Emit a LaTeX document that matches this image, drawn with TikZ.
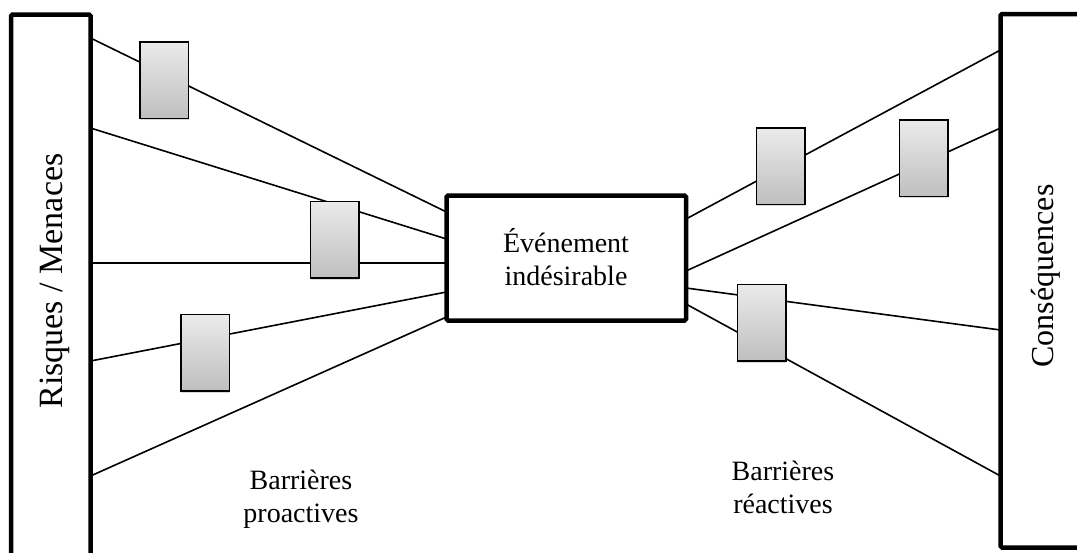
\documentclass[tikz,border=0pt]{standalone}
\usepackage{fontspec}
\setmainfont{Liberation Serif}
\usetikzlibrary{shadows}
\begin{document}
\begin{tikzpicture}[x=1pt,y=-1pt,
  heavy/.style={draw, line width=4.5pt, rounded corners=1.5pt, inner sep=0pt, fill=white},
  link/.style={line width=1.6pt},
  barrier/.style={draw, line width=1.5pt, minimum width=48.5pt, minimum height=76.5pt,
    inner sep=0pt, top color=black!8, bottom color=black!25,
    drop shadow={shadow xshift=0.6pt, shadow yshift=-2.2pt, opacity=0.3}},
  lbl/.style={font=\fontsize{28}{33}\selectfont, align=center, anchor=base},
  side/.style={rotate=90, anchor=base}]
\useasboundingbox (0,0) rectangle (1077,552);
\clip (0,0) rectangle (1077,552);

% sources, outcomes and the central event
\node[heavy, minimum width=79.5pt, minimum height=560pt] (risk) at (50.75,294.5) {};
\node[heavy, minimum width=99.5pt, minimum height=533.5pt] (cons) at (1050.25,280.75) {};
\node[heavy, minimum width=239.5pt, minimum height=125pt] (event) at (566.25,258) {};

% attachment points
\coordinate (r1) at (90.5,38);
\coordinate (r2) at (90.5,128);
\coordinate (r3) at (90.5,263);
\coordinate (r4) at (90.5,361);
\coordinate (r5) at (90.5,476);
\coordinate (el1) at (446.5,212);
\coordinate (el2) at (446.5,239);
\coordinate (el3) at (446.5,263);
\coordinate (el4) at (446.5,292);
\coordinate (el5) at (446.5,317);
\coordinate (er1) at (686,219);
\coordinate (er2) at (686,271);
\coordinate (er3) at (686,288);
\coordinate (er4) at (686,304);
\coordinate (c1) at (1000.5,50);
\coordinate (c2) at (1000.5,128);
\coordinate (c3) at (1000.5,330);
\coordinate (c4) at (1000.5,476);

% threat and consequence paths
\draw[link] (r1) -- (el1);
\draw[link] (r2) -- (el2);
\draw[link] (r3) -- (el3);
\draw[link] (r4) -- (el4);
\draw[link] (r5) -- (el5);
\draw[link] (er1) -- (c1);
\draw[link] (er2) -- (c2);
\draw[link] (er3) -- (c3);
\draw[link] (er4) -- (c4);

% barriers sitting on the paths
\node[barrier] (b1) at (164,80) {};
\node[barrier] (b2) at (334.5,239.5) {};
\node[barrier] (b3) at (205,352.5) {};
\node[barrier] (b4) at (780.5,166) {};
\node[barrier] (b5) at (923.5,158) {};
\node[barrier] (b6) at (761.5,322.5) {};

% labels (base anchor sits on the last line)
\node[side, font=\fontsize{34}{40}\selectfont] (risklabel) at (62,281) {Risques / Menaces};
\node[side, font=\fontsize{32}{38}\selectfont] (conslabel) at (1053,276) {Conséquences};
\node[lbl] (eventlabel) at (566,285) {Événement\\indésirable};
\node[lbl] (prolabel) at (301,522) {Barrières\\proactives};
\node[lbl] (reaclabel) at (783,513) {Barrières\\réactives};
\end{tikzpicture}
\end{document}
